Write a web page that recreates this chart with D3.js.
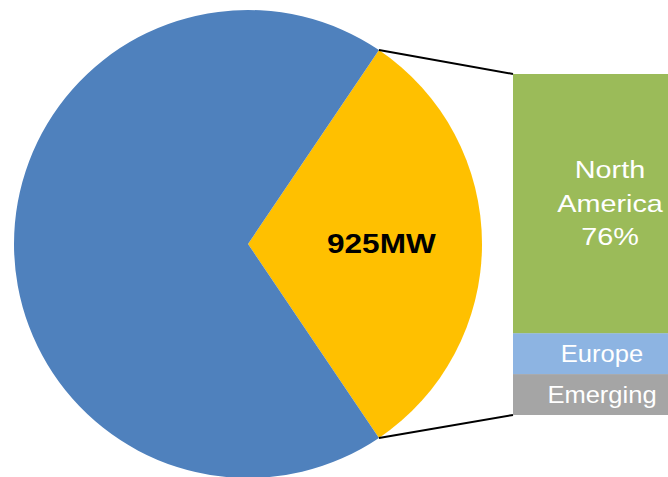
<!DOCTYPE html>
<html>
<head>
<meta charset="utf-8">
<script src="https://cdn.jsdelivr.net/npm/d3@7"></script>
<style>
  body { margin: 0; background: #fff; }
  svg { display: block; font-family: "Liberation Sans", Arial, sans-serif; }
</style>
</head>
<body>
<div id="chart"></div>
<script>
// pie: share of total capacity (MW)
const pieNames = ["Selected", "Other"];
const pieValues = [925, 2050];
const pieLabel = "925MW";

// bar breakdown of the 925MW slice (%), listed bottom to top
const barNames = ["Emerging", "Europe", "North America"];
const barValues = [12, 12, 76];
const barLabels = [["Emerging"], ["Europe"], ["North", "America", "76%"]];

function draw() {
  const dimensions = { width: 668, height: 477 };
  const cx = 248, cy = 244, radius = 234;

  const svg = d3.select("#chart").append("svg")
    .attr("width", dimensions.width)
    .attr("height", dimensions.height);

  const pieColors = ["#FFC000", "#4F81BD"];
  const barColors = ["#A5A5A5", "#8DB4E2", "#9BBB59"];

  // center the first slice on 3 o'clock
  const total = d3.sum(pieValues);
  const sliceAngle = pieValues[0] / total * 2 * Math.PI;
  const start = Math.PI / 2 - sliceAngle / 2;

  const pie = d3.pie().sort(null).startAngle(start).endAngle(start + 2 * Math.PI);
  const arcs = pie(pieValues);
  const arc = d3.arc().innerRadius(0).outerRadius(radius);

  const pieG = svg.append("g").attr("transform", `translate(${cx},${cy})`);
  pieG.selectAll("path")
    .data(arcs)
    .join("path")
    .attr("fill", (d, i) => pieColors[i])
    .attr("d", arc);

  const labelArc = d3.arc().innerRadius(radius * 0.57).outerRadius(radius * 0.57);
  const c = labelArc.centroid(arcs[0]);
  pieG.append("text")
    .attr("transform", `translate(${c[0]},${c[1]}) scale(1.17,1)`)
    .attr("dy", "0.35em")
    .attr("text-anchor", "middle")
    .attr("font-size", 27)
    .attr("font-weight", "bold")
    .attr("fill", "#000")
    .text(pieLabel);

  // stacked bar
  const barX = 513, barW = 194;
  const y = d3.scaleLinear().domain([0, d3.sum(barValues)]).range([415, 74]);
  const cum = d3.cumsum(barValues);
  const segs = barValues.map((v, i) => ({ name: barNames[i], y0: cum[i] - v, y1: cum[i], lines: barLabels[i] }));

  svg.append("g").selectAll("rect")
    .data(segs)
    .join("rect")
    .attr("x", barX)
    .attr("width", barW)
    .attr("y", d => y(d.y1))
    .attr("height", d => y(d.y0) - y(d.y1))
    .attr("fill", (d, i) => barColors[i]);

  const lineH = 33.5;
  segs.forEach((d, i) => {
    const big = d.lines.length > 1;
    const mid = (y(d.y0) + y(d.y1)) / 2;
    const t = svg.append("text")
      .attr("text-anchor", "middle")
      .attr("fill", "#fff")
      .attr("font-size", big ? 24 : 23)
      .attr("transform", `translate(${barX + barW / 2 - (big ? 0 : 8)},${mid}) scale(${big ? 1.2 : 1.11},1)`);
    d.lines.forEach((line, j) => {
      t.append("tspan")
        .attr("x", 0)
        .attr("y", (j - (d.lines.length - 1) / 2) * lineH)
        .attr("dy", "0.35em")
        .text(line);
    });
  });

  // connector lines from slice edges to bar corners
  const pt = a => [cx + radius * Math.sin(a), cy - radius * Math.cos(a)];
  const top = pt(arcs[0].startAngle), bottom = pt(arcs[0].endAngle);
  svg.append("g")
    .attr("stroke", "#000")
    .attr("stroke-width", 2)
    .selectAll("line")
    .data([[top, [barX, y(d3.sum(barValues))]], [bottom, [barX, y(0)]]])
    .join("line")
    .attr("x1", d => d[0][0]).attr("y1", d => d[0][1])
    .attr("x2", d => d[1][0]).attr("y2", d => d[1][1]);
}
draw();
</script>
</body>
</html>
